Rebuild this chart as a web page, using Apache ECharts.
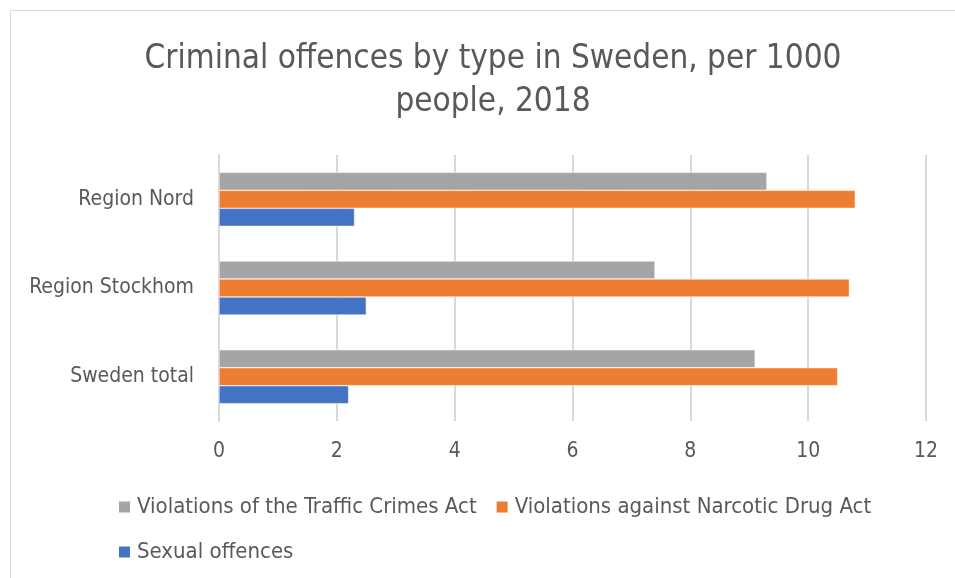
<!DOCTYPE html>
<html>
<head>
<meta charset="utf-8">
<script src="https://cdn.jsdelivr.net/npm/echarts@6/dist/echarts.min.js"></script>
<style>
  html, body { margin: 0; padding: 0; background: #fff; }
  #main { position: absolute; left: 10px; top: 10px; width: 960px; height: 580px; border: 1px solid #d9d9d9; box-sizing: border-box; }
</style>
</head>
<body>
<div id="main"></div>
<script>
// categories bottom -> top (ECharts category y axis starts at bottom)
var regions = ['Sweden total', 'Region Stockhom', 'Region Nord'];
var sexual = [2.2, 2.5, 2.3];
var narcotic = [10.5, 10.7, 10.8];
var traffic = [9.1, 7.4, 9.3];
var xTicks = [0, 2, 4, 6, 8, 10, 12];

var txt = '#595959';
var font = "'Liberation Sans Narrow', 'DejaVu Sans Condensed', Lato";

var chart = echarts.init(document.getElementById('main'));

var legendText = { color: txt, fontSize: 22, fontFamily: font, padding: [0, 0, 0, 1] };

var option = {
  animation: false,
  title: {
    text: 'Criminal offences by type in Sweden, per 1000\npeople, 2018',
    left: 477,
    textAlign: 'center',
    top: 22,
    textStyle: { color: txt, fontSize: 33, fontWeight: 'normal', fontFamily: font, lineHeight: 43 }
  },
  legend: [{
    data: ['Violations of the Traffic Crimes Act', 'Violations against Narcotic Drug Act'],
    left: 101,
    top: 480,
    itemWidth: 13,
    itemHeight: 13,
    itemGap: 18,
    icon: 'rect',
    textStyle: legendText
  }, {
    data: ['Sexual offences'],
    left: 101,
    top: 525,
    itemWidth: 13,
    itemHeight: 13,
    icon: 'rect',
    textStyle: legendText
  }],
  grid: { left: 208, right: 43, top: 144, bottom: 168 },
  xAxis: {
    type: 'value',
    min: xTicks[0],
    max: xTicks[xTicks.length - 1],
    interval: 2,
    axisLine: { show: false },
    axisTick: { show: false },
    axisLabel: { color: txt, fontSize: 21, fontFamily: font, margin: 20 },
    splitLine: { lineStyle: { color: '#d9d9d9', width: 2 } }
  },
  yAxis: {
    type: 'category',
    data: regions,
    axisLine: { lineStyle: { color: '#d9d9d9', width: 2 } },
    axisTick: { show: false },
    axisLabel: { color: txt, fontSize: 21, fontFamily: font, margin: 25 }
  },
  series: [
    { name: 'Violations of the Traffic Crimes Act', type: 'bar', data: traffic, barWidth: 18, barGap: '0%',
      itemStyle: { color: '#a5a5a5', borderColor: '#fff', borderWidth: 0.5 } },
    { name: 'Violations against Narcotic Drug Act', type: 'bar', data: narcotic, barWidth: 18, barGap: '0%',
      itemStyle: { color: '#ed7d31', borderColor: '#fff', borderWidth: 0.5 } },
    { name: 'Sexual offences', type: 'bar', data: sexual, barWidth: 18, barGap: '0%',
      itemStyle: { color: '#4472c4', borderColor: '#fff', borderWidth: 0.5 } }
  ]
};

chart.setOption(option);
</script>
</body>
</html>
